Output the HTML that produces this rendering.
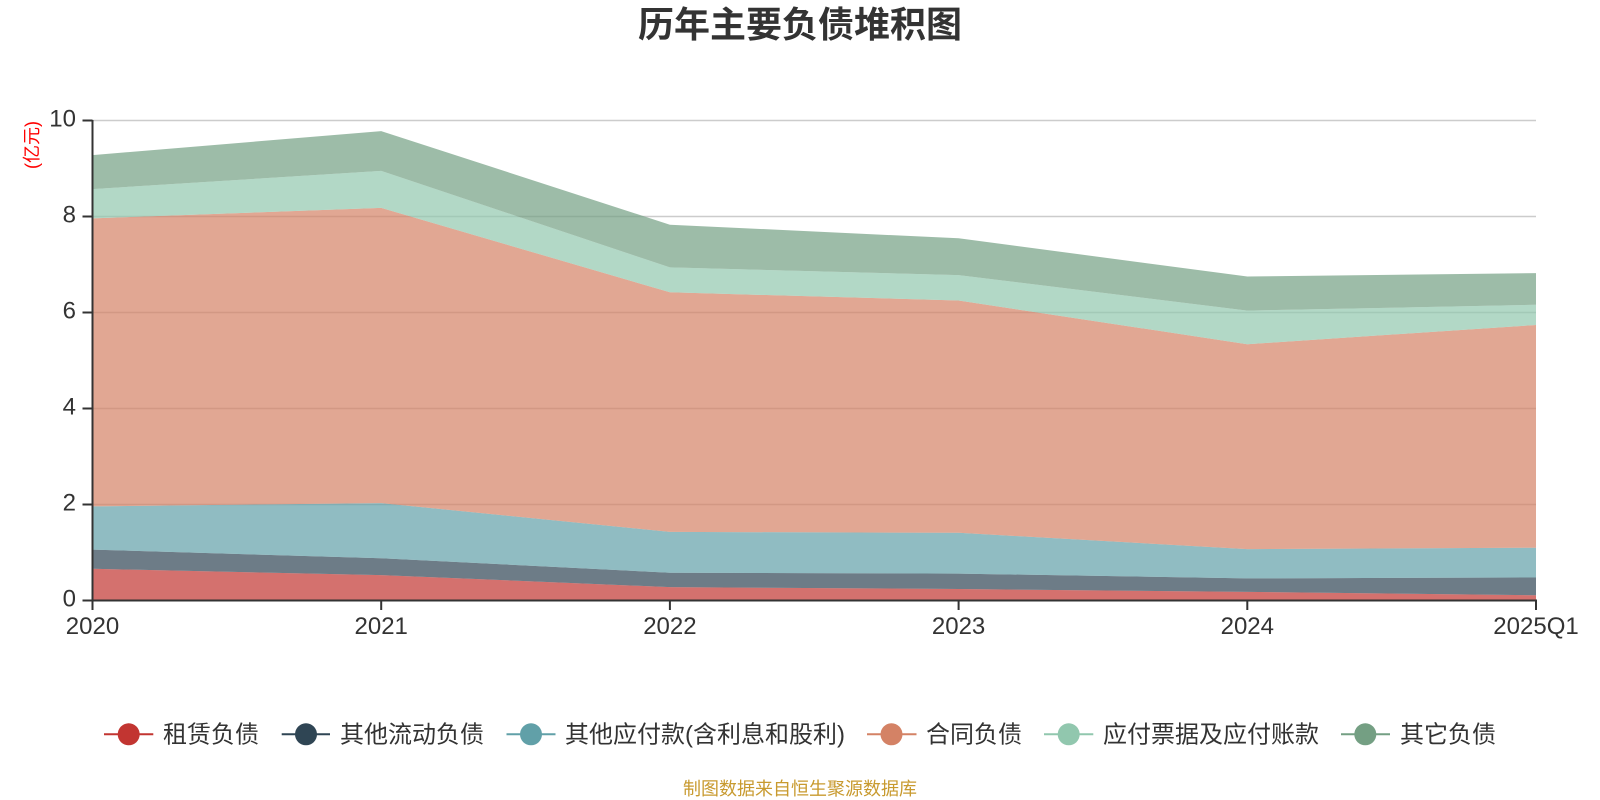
<!DOCTYPE html>
<html>
<head>
<meta charset="utf-8">
<style>
  html,body{margin:0;padding:0;background:#fff;}
  svg{display:block;}
  text{font-family:"Liberation Sans","Noto Sans CJK SC",sans-serif;}
</style>
</head>
<body>
<svg width="1600" height="800" viewBox="0 0 1600 800" xmlns="http://www.w3.org/2000/svg">
  <rect width="1600" height="800" fill="#fff"/>

  <!-- Title -->
  <text x="800" y="37" text-anchor="middle" font-size="36" font-weight="bold" fill="#333">历年主要负债堆积图</text>

  <!-- Y unit -->
  <text transform="translate(38,145) rotate(-90)" text-anchor="middle" font-size="18" fill="#ff0000">(亿元)</text>

  <!-- Grid lines -->
  <g stroke="#cccccc" stroke-width="1.6">
    <line x1="92.5" y1="120.5" x2="1536" y2="120.5"/>
    <line x1="92.5" y1="216.5" x2="1536" y2="216.5"/>
    <line x1="92.5" y1="312.5" x2="1536" y2="312.5"/>
    <line x1="92.5" y1="408.5" x2="1536" y2="408.5"/>
    <line x1="92.5" y1="504.5" x2="1536" y2="504.5"/>
  </g>

  <!-- Stacked areas -->
  <g fill-opacity="0.7" stroke="none">
    <polygon fill="#c23531" points="92.5,600.5 92.5,568.8 381.2,575.1 669.9,587.1 958.6,589.0 1247.3,591.9 1536,595.2 1536,600.5"/>
    <polygon fill="#2f4554" points="92.5,568.8 381.2,575.1 669.9,587.1 958.6,589.0 1247.3,591.9 1536,595.2 1536,577.5 1247.3,578.4 958.6,573.6 669.9,572.7 381.2,558.3 92.5,549.6"/>
    <polygon fill="#61a0a8" points="92.5,549.6 381.2,558.3 669.9,572.7 958.6,573.6 1247.3,578.4 1536,577.5 1536,547.7 1247.3,549.1 958.6,532.8 669.9,531.9 381.2,503.1 92.5,506.4"/>
    <polygon fill="#d48265" points="92.5,506.4 381.2,503.1 669.9,531.9 958.6,532.8 1247.3,549.1 1536,547.7 1536,325.0 1247.3,344.2 958.6,300.5 669.9,292.3 381.2,207.9 92.5,218.4"/>
    <polygon fill="#91c7ae" points="92.5,218.4 381.2,207.9 669.9,292.3 958.6,300.5 1247.3,344.2 1536,325.0 1536,304.8 1247.3,310.6 958.6,275.1 669.9,267.4 381.2,170.9 92.5,189.1"/>
    <polygon fill="#749f83" points="92.5,189.1 381.2,170.9 669.9,267.4 958.6,275.1 1247.3,310.6 1536,304.8 1536,273.1 1247.3,276.5 958.6,238.3 669.9,224.7 381.2,131.1 92.5,155.1"/>
  </g>

  <!-- Axes -->
  <g stroke="#333" stroke-width="2">
    <line x1="92.5" y1="120" x2="92.5" y2="601.5"/>
    <line x1="91.5" y1="600.5" x2="1537" y2="600.5"/>
    <line x1="82.5" y1="120.5" x2="92.5" y2="120.5"/>
    <line x1="82.5" y1="216.5" x2="92.5" y2="216.5"/>
    <line x1="82.5" y1="312.5" x2="92.5" y2="312.5"/>
    <line x1="82.5" y1="408.5" x2="92.5" y2="408.5"/>
    <line x1="82.5" y1="504.5" x2="92.5" y2="504.5"/>
    <line x1="82.5" y1="600.5" x2="92.5" y2="600.5"/>
    <line x1="92.5" y1="600.5" x2="92.5" y2="610"/>
    <line x1="381.2" y1="600.5" x2="381.2" y2="610"/>
    <line x1="669.9" y1="600.5" x2="669.9" y2="610"/>
    <line x1="958.6" y1="600.5" x2="958.6" y2="610"/>
    <line x1="1247.3" y1="600.5" x2="1247.3" y2="610"/>
    <line x1="1536" y1="600.5" x2="1536" y2="610"/>
  </g>

  <!-- Y labels -->
  <g font-size="24" fill="#333" text-anchor="end">
    <text x="76" y="126.5">10</text>
    <text x="76" y="222.5">8</text>
    <text x="76" y="318.5">6</text>
    <text x="76" y="414.5">4</text>
    <text x="76" y="510.5">2</text>
    <text x="76" y="606.5">0</text>
  </g>

  <!-- X labels -->
  <g font-size="24" fill="#333" text-anchor="middle">
    <text x="92.5" y="634">2020</text>
    <text x="381.2" y="634">2021</text>
    <text x="669.9" y="634">2022</text>
    <text x="958.6" y="634">2023</text>
    <text x="1247.3" y="634">2024</text>
    <text x="1536" y="634">2025Q1</text>
  </g>

  <!-- Legend -->
  <g font-size="24" fill="#333">
    <line x1="104" y1="734.3" x2="153.3" y2="734.3" stroke="#c23531" stroke-width="2"/>
    <circle cx="128.7" cy="734.3" r="11" fill="#c23531"/>
    <text x="163" y="742.5">租赁负债</text>

    <line x1="281.7" y1="734.3" x2="330" y2="734.3" stroke="#2f4554" stroke-width="2"/>
    <circle cx="306" cy="734.3" r="11" fill="#2f4554"/>
    <text x="340" y="742.5">其他流动负债</text>

    <line x1="506.5" y1="734.3" x2="555.5" y2="734.3" stroke="#61a0a8" stroke-width="2"/>
    <circle cx="531" cy="734.3" r="11" fill="#61a0a8"/>
    <text x="565" y="742.5" textLength="280" lengthAdjust="spacing">其他应付款(含利息和股利)</text>

    <line x1="867" y1="734.3" x2="916.5" y2="734.3" stroke="#d48265" stroke-width="2"/>
    <circle cx="891.5" cy="734.3" r="11" fill="#d48265"/>
    <text x="926" y="742.5">合同负债</text>

    <line x1="1044" y1="734.3" x2="1093.3" y2="734.3" stroke="#91c7ae" stroke-width="2"/>
    <circle cx="1068.7" cy="734.3" r="11" fill="#91c7ae"/>
    <text x="1103" y="742.5">应付票据及应付账款</text>

    <line x1="1341" y1="734.3" x2="1390" y2="734.3" stroke="#749f83" stroke-width="2"/>
    <circle cx="1365.3" cy="734.3" r="11" fill="#749f83"/>
    <text x="1400" y="742.5">其它负债</text>
  </g>

  <!-- Footer -->
  <text x="800" y="795" text-anchor="middle" font-size="18" fill="#c89a2f">制图数据来自恒生聚源数据库</text>
</svg>
</body>
</html>
